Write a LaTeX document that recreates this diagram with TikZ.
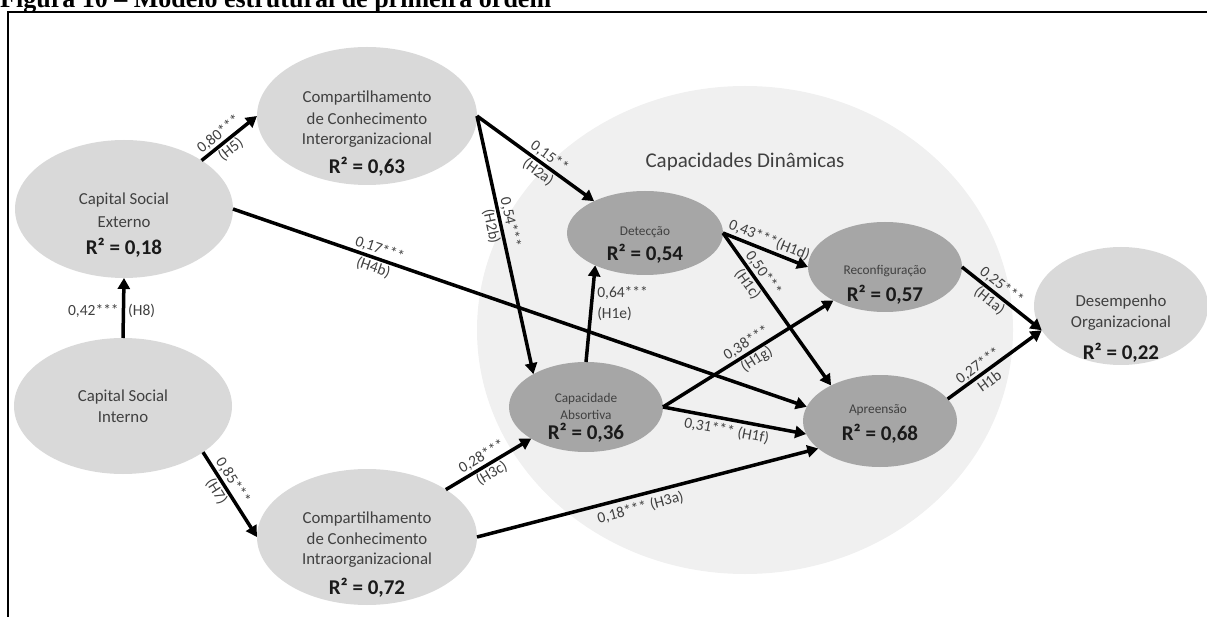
\documentclass[tikz,border=0pt]{standalone}
\usepackage{fontspec}
\setmainfont{Carlito}
\newfontfamily\titlefont{Liberation Serif}
\usetikzlibrary{arrows.meta,shapes.geometric}

\definecolor{lvfill}{HTML}{D9D9D9}
\definecolor{dcfill}{HTML}{A6A6A6}
\definecolor{dynfill}{HTML}{F0F0F0}
\definecolor{txtgray}{HTML}{404040}
\definecolor{rsqcol}{HTML}{1A1A1A}

\begin{document}
\begin{tikzpicture}[x=1pt,y=-1pt,
  lv/.style={ellipse, fill=lvfill, inner sep=0pt, outer sep=0pt},
  dc/.style={ellipse, fill=dcfill, inner sep=0pt, outer sep=0pt},
  lvtext/.style={font=\fontsize{16.8}{20}\selectfont, text=txtgray, inner sep=0pt},
  dctext/.style={font=\fontsize{13.3}{16}\selectfont, text=txtgray, inner sep=0pt},
  rtwo/.style={font=\fontsize{21}{25}\selectfont\bfseries, text=rsqcol, inner sep=0pt},
  effect/.style={line width=3.5pt, -{Triangle[length=11pt,width=12pt]}},
  coef/.style={font=\fontsize{15.5}{19.5}\selectfont, text=txtgray, inner sep=1pt, align=center},
]
\useasboundingbox (0,0) rectangle (1207,617);
\clip (0,0) rectangle (1207,617);

% dynamic capabilities region
\node[ellipse, fill=dynfill, inner sep=0pt, minimum width=536pt, minimum height=488pt] (dyn) at (745,330) {};
\node[font=\fontsize{21}{25}\selectfont, text=txtgray] (dyntitle) at (745,162) {Capacidades Dinâmicas};

% caption and frame
\node[anchor=base west, inner sep=0pt, font=\titlefont\bfseries\fontsize{26}{30}\selectfont] (title) at (0,8) {Figura 10 – Modelo estrutural de primeira ordem};
\draw[line width=2.6pt] (8,640) -- (8,12) -- (1220,12);

% latent variables
\node[lv, minimum width=218pt, minimum height=138pt] (ext) at (124,209) {};
\node[lv, minimum width=218pt, minimum height=136pt] (int) at (123,406) {};
\node[lv, minimum width=220pt, minimum height=138pt] (inter) at (367,116) {};
\node[lv, minimum width=220pt, minimum height=136pt] (intra) at (367,537) {};
\node[dc, minimum width=156pt, minimum height=84pt] (det) at (645,233) {};
\node[dc, minimum width=154pt, minimum height=90pt] (cap) at (586,407) {};
\node[dc, minimum width=154pt, minimum height=90pt] (rec) at (885,267) {};
\node[dc, minimum width=154pt, minimum height=92pt] (apr) at (880,421) {};
\node[lv, minimum width=174pt, minimum height=118pt] (des) at (1121,306) {};

% texts of the constructs
\node[lvtext] (extA) at (124,200) {Capital Social};
\node[lvtext] (extB) at (124,222) {Externo};
\node[rtwo] (extR) at (124,248) {R² = 0,18};

\node[lvtext] (intA) at (123,397) {Capital Social};
\node[lvtext] (intB) at (123,417) {Interno};

\node[lvtext] (interA) at (367,98) {Compartilhamento};
\node[lvtext] (interB) at (367,119) {de Conhecimento};
\node[lvtext] (interC) at (367,140) {Interorganizacional};
\node[rtwo] (interR) at (367,167) {R² = 0,63};

\node[lvtext] (intraA) at (367,519) {Compartilhamento};
\node[lvtext] (intraB) at (367,539) {de Conhecimento};
\node[lvtext] (intraC) at (367,560) {Intraorganizacional};
\node[rtwo] (intraR) at (367,588) {R² = 0,72};

\node[dctext] (detA) at (645,232) {Detecção};
\node[rtwo] (detR) at (645,254) {R² = 0,54};

\node[dctext] (capA) at (586,399) {Capacidade};
\node[dctext] (capB) at (586,415) {Absortiva};
\node[rtwo] (capR) at (586,433) {R² = 0,36};

\node[dctext] (recA) at (885,271) {Reconfiguração};
\node[rtwo] (recR) at (885,295) {R² = 0,57};

\node[dctext] (aprA) at (878,410) {Apreensão};
\node[rtwo] (aprR) at (880,434) {R² = 0,68};

\node[lvtext] (desA) at (1121,302) {Desempenho};
\node[lvtext] (desB) at (1121,323) {Organizacional};
\node[rtwo] (desR) at (1121,353) {R² = 0,22};

% structural paths
\draw[effect] (int.north) -- (ext.south)
  node[coef, pos=0.45, left=2pt] (c8a) {0,42***}
  node[coef, pos=0.45, right=2pt] (c8b) {(H8)};
\draw[effect] (ext.32) -- (inter.west) node[coef, sloped, pos=0.42] (c5) {0,80***\\(H5)};
\draw[effect] (ext.east) -- (apr.169) node[coef, sloped, pos=0.25] (c4b) {0,17***\\(H4b)};
\draw[effect] (int.-30) -- (intra.west) node[coef, sloped, pos=0.4] (c7) {0,85***\\(H7)};
\draw[effect] (inter.east) -- (det.148) node[coef, sloped, pos=0.57] (c2a) {0,15**\\(H2a)};
\draw[effect] (inter.east) -- (cap.148) node[coef, sloped, pos=0.42] (c2b) {0,54***\\(H2b)};
\draw[effect] (cap.north) -- (det.213)
  node[coef, pos=0.6, right=3pt, align=left, font=\fontsize{15.5}{21}\selectfont] (c1e) {0,64***\\(H1e)};
\draw[effect] (det.east) -- (rec.west) node[coef, sloped, pos=0.5, above=1pt] (c1d) {0,43***(H1d)};
\draw[effect] (det.east) -- (apr.144) node[coef, sloped, pos=0.3] (c1c) {0,50***\\(H1c)};
\draw[effect] (cap.east) -- (rec.213) node[coef, sloped, pos=0.52] (c1g) {0,38***\\(H1g)};
\draw[effect] (cap.east) -- (apr.190) node[coef, sloped, pos=0.46, below=2pt] (c1f) {0,31*** (H1f)};
\draw[effect] (intra.31) -- (cap.210) node[coef, sloped, pos=0.48] (c3c) {0,28***\\(H3c)};
\draw[effect] (intra.east) -- (apr.204) node[coef, sloped, pos=0.47, below=3pt] (c3a) {0,18*** (H3a)};
\draw[effect] (rec.east) -- (des.197) node[coef, sloped, pos=0.42] (c1a) {0,25***\\(H1a)};
\draw[effect] (apr.18) -- (des.197) node[coef, sloped, pos=0.38] (c1b) {0,27***\\H1b};
\end{tikzpicture}
\end{document}
